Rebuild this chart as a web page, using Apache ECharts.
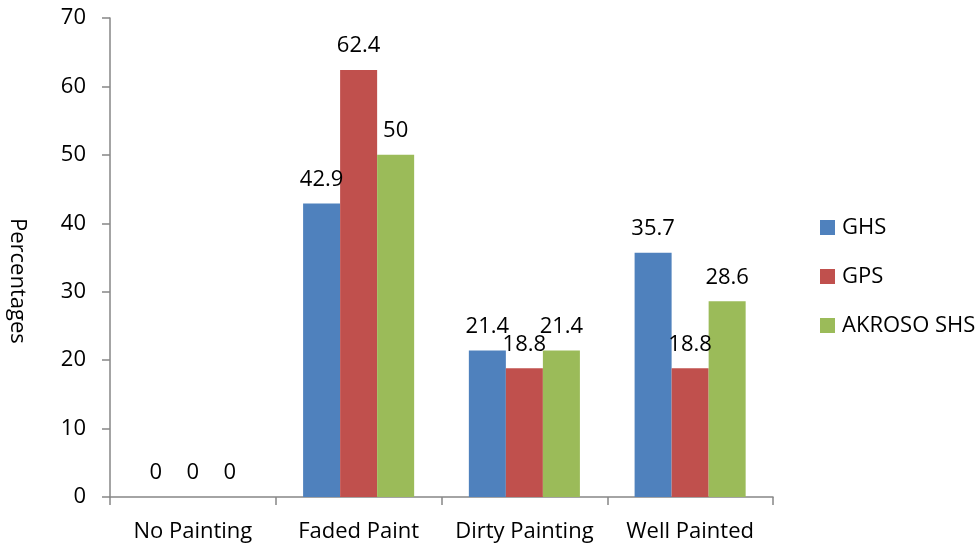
<!DOCTYPE html>
<html>
<head>
<meta charset="utf-8">
<script src="https://cdn.jsdelivr.net/npm/echarts@6/dist/echarts.min.js"></script>
<style>
  html, body { margin: 0; padding: 0; background: #ffffff; }
  #chart { width: 979px; height: 548px; }
</style>
</head>
<body>
<div id="chart"></div>
<script>
// Condition of painting, share of responses per school
var categories = ['No Painting', 'Faded Paint', 'Dirty Painting', 'Well Painted'];
var seriesNames = ['GHS', 'GPS', 'AKROSO SHS'];
var ghs = [0, 42.9, 21.4, 35.7];
var gps = [0, 62.4, 18.8, 18.8];
var akroso = [0, 50, 21.4, 28.6];
var yTicks = [0, 10, 20, 30, 40, 50, 60, 70];

var FONT = 'Open Sans';
var FS = 22;
var colors = ['#4F81BD', '#C0504D', '#9BBB59'];
var values = [ghs, gps, akroso];

var chart = echarts.init(document.getElementById('chart'), null, { renderer: 'canvas' });

var series = seriesNames.map(function (name, i) {
  return {
    name: name,
    type: 'bar',
    data: values[i],
    barGap: '0%',
    barCategoryGap: '33%',
    itemStyle: { color: colors[i] },
    label: {
      show: true,
      position: 'top',
      distance: 13,
      color: '#000000',
      fontFamily: FONT,
      fontSize: FS
    }
  };
});

chart.setOption({
  animation: false,
  backgroundColor: '#ffffff',
  color: colors,
  grid: { left: 110, right: 206, top: 18, bottom: 51, containLabel: false },
  legend: {
    orient: 'vertical',
    left: 815,
    top: 211,
    itemWidth: 15,
    itemHeight: 15,
    itemGap: 26,
    icon: 'rect',
    data: seriesNames,
    textStyle: { fontFamily: FONT, fontSize: FS, color: '#000000', lineHeight: 23, padding: [0, 0, 0, 2] }
  },
  xAxis: {
    type: 'category',
    data: categories,
    axisLine: { lineStyle: { color: '#868686', width: 1.5 } },
    axisTick: { show: true, length: 8, inside: false, lineStyle: { color: '#868686', width: 1.5 } },
    axisLabel: { interval: 0, color: '#000000', fontFamily: FONT, fontSize: FS, margin: 24 }
  },
  yAxis: {
    type: 'value',
    min: yTicks[0],
    max: yTicks[yTicks.length - 1],
    interval: yTicks[1] - yTicks[0],
    axisLine: { show: true, lineStyle: { color: '#868686', width: 1.5 } },
    axisTick: { show: true, length: 8, lineStyle: { color: '#868686', width: 1.5 } },
    splitLine: { show: false },
    axisLabel: { color: '#000000', fontFamily: FONT, fontSize: FS, margin: 24 }
  },
  graphic: [{
    type: 'text',
    left: 6,
    top: 218,
    rotation: -Math.PI / 2,
    style: {
      text: 'Percentages',
      fontFamily: FONT,
      fontSize: 22,
      fill: '#000000'
    }
  }],
  series: series
});
</script>
</body>
</html>
